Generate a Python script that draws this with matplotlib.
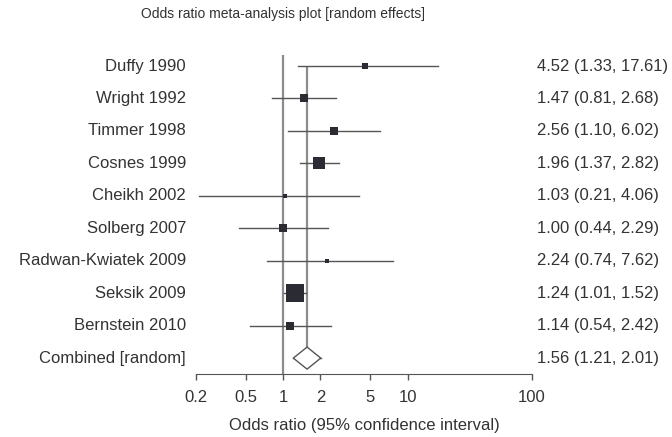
import numpy as np
import matplotlib.pyplot as plt
from matplotlib.patches import Polygon

plt.rcParams['font.family'] = ['Liberation Sans', 'DejaVu Sans']

# study data
studies = ["Duffy 1990", "Wright 1992", "Timmer 1998", "Cosnes 1999", "Cheikh 2002",
           "Solberg 2007", "Radwan-Kwiatek 2009", "Seksik 2009", "Bernstein 2010"]
odds = [4.52, 1.47, 2.56, 1.96, 1.03, 1.00, 2.24, 1.24, 1.14]
lower = [1.33, 0.81, 1.10, 1.37, 0.21, 0.44, 0.74, 1.01, 0.54]
upper = [17.61, 2.68, 6.02, 2.82, 4.06, 2.29, 7.62, 1.52, 2.42]
weights = [3.6, 9.1, 7.0, 20.5, 2.3, 7.0, 2.3, 41.2, 7.0]  # percent

comb_label = "Combined [random]"
comb_or, comb_lo, comb_hi = 1.56, 1.21, 2.01

xticks = [0.2, 0.5, 1, 2, 5, 10, 100]

text_col = '#333333'
line_col = '#555555'
vline_col = '#8c8c8c'
box_col = '#2b2b33'

W, H = 672, 437
fig = plt.figure(figsize=(6.72, 4.37), dpi=100)
ax = fig.add_axes([196 / W, 1 - 374 / H, 336 / W, (374 - 55) / H])

ax.set_xscale('log')
ax.set_xlim(0.2, 100)
ax.set_ylim(9.49, -0.34)

n = len(studies)
rows = np.arange(n)

# reference lines
ax.axvline(1, color=vline_col, lw=1.6, zorder=1)
ax.vlines(comb_or, 0, n - 0.34, color=vline_col, lw=1.6, zorder=1)

# confidence intervals and boxes
for i in rows:
    ax.plot([lower[i], upper[i]], [i, i], color=line_col, lw=1, zorder=2)
    side = 2.65 * np.sqrt(weights[i]) * 0.72
    ax.plot(odds[i], i, marker='s', ms=side, color=box_col, mec=box_col, mew=0, zorder=3)

# combined diamond
ax.plot([comb_lo, comb_hi], [n, n], color=line_col, lw=1, zorder=2)
diamond = Polygon([[comb_lo, n], [comb_or, n - 0.34], [comb_hi, n], [comb_or, n + 0.34]],
                  closed=True, facecolor='white', edgecolor=line_col, lw=1, zorder=3)
ax.add_patch(diamond)

# labels on both sides
yt = ax.get_yaxis_transform()
for i in rows:
    ax.text(-0.03, i, studies[i], transform=yt, ha='right', va='center',
            fontsize=12, color=text_col)
    ax.text(1.015, i, "%.2f (%.2f, %.2f)" % (odds[i], lower[i], upper[i]),
            transform=yt, ha='left', va='center', fontsize=12, color=text_col)
ax.text(-0.03, n, comb_label, transform=yt, ha='right', va='center',
        fontsize=12, color=text_col)
ax.text(1.015, n, "%.2f (%.2f, %.2f)" % (comb_or, comb_lo, comb_hi),
        transform=yt, ha='left', va='center', fontsize=12, color=text_col)

# axis styling
for s in ['top', 'left', 'right']:
    ax.spines[s].set_visible(False)
ax.spines['bottom'].set_color(line_col)
ax.set_yticks([])
ax.set_xticks(xticks)
ax.set_xticklabels([("%g" % t) for t in xticks])
ax.xaxis.set_minor_locator(plt.NullLocator())
ax.tick_params(axis='x', direction='out', length=4.5, width=1, color=line_col,
               labelsize=12, labelcolor=text_col, pad=7)
ax.set_xlabel("Odds ratio (95% confidence interval)", fontsize=12, color=text_col, labelpad=9.5)

fig.text(283 / W, 1 - 14 / H, "Odds ratio meta-analysis plot [random effects]",
         ha='center', va='center', fontsize=10, color=text_col)

fig.savefig('out.png', dpi=100)
